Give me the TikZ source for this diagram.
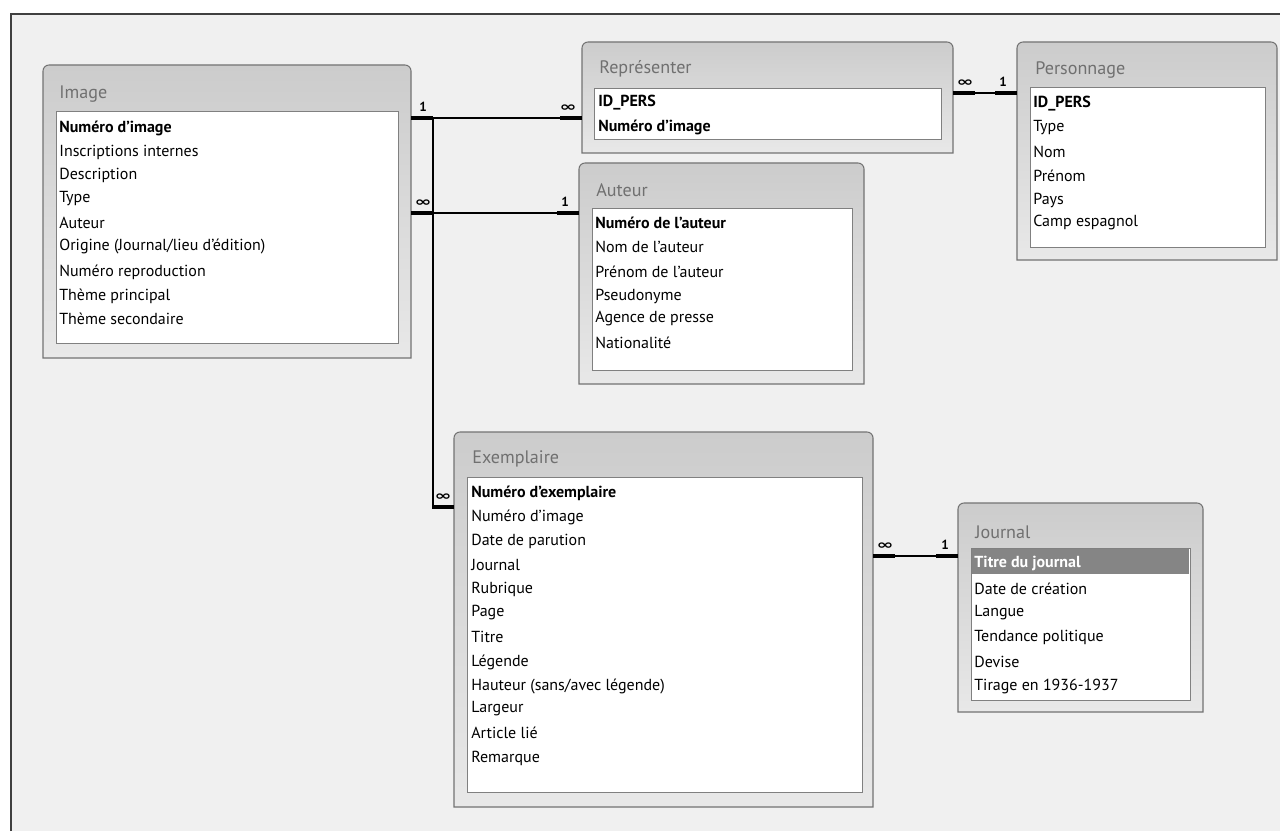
\documentclass[tikz,border=0pt]{standalone}
\usepackage{amsmath,amssymb}
\usepackage{graphicx}
\usepackage{fontspec}
\setmainfont{PT Sans}
\newfontfamily\cardfont{DejaVu Sans}
\usetikzlibrary{calc,fit}
\definecolor{canvasbg}{gray}{0.94}
\definecolor{framecol}{gray}{0.25}
\definecolor{boxline}{gray}{0.45}
\definecolor{boxtop}{gray}{0.80}
\definecolor{boxbot}{gray}{0.91}
\definecolor{listline}{gray}{0.50}
\definecolor{titlecol}{gray}{0.44}
\definecolor{keysel}{gray}{0.52}
\newcommand{\many}{\scalebox{1.55}[1]{\cardfont\bfseries ∞}}
\tikzset{
  tbl/.style={inner sep=0pt,outer sep=0pt},
  tblbox/.style={draw=boxline,line width=0.6pt,top color=boxtop,bottom color=boxbot},
  listbox/.style={draw=listline,fill=white,line width=0.5pt},
  ttl/.style={font=\fontsize{10.3}{12}\selectfont,text=titlecol,anchor=west,inner sep=0pt},
  fld/.style={font=\fontsize{9.1}{11}\selectfont,anchor=west,inner sep=0pt},
  pkfld/.style={font=\fontsize{9.1}{11}\selectfont\bfseries,anchor=west,inner sep=0pt},
  relline/.style={draw=black,line width=0.75pt},
  cardbar/.style={draw=black,line width=2.2pt},
  card/.style={font=\fontsize{7.5}{9}\selectfont,inner sep=0pt},
}

\begin{document}
\begin{tikzpicture}[x=0.02cm,y=-0.02cm]
  \useasboundingbox (0,0) rectangle (1280,831);
  \fill[white] (0,0) rectangle (1280,831);
  \fill[canvasbg] (11,14) rectangle (1280,831);
  \draw[framecol,line width=0.05cm] (11,831) -- (11,14) -- (1280,14);

  % Image
  \node[tbl,fit={(43,65) (411,358)}] (image) {};
  \draw[tblbox] (image.south west) [rounded corners=3.4pt] -- (image.north west) -- (image.north east) [sharp corners] -- (image.south east) -- cycle;
  \node[ttl] (image-t) at (59,94) {Image};
  \draw[listbox] (56,111) rectangle (398,343);
  \node[pkfld] (image-f1) at (59,128) {Numéro d'image};
  \node[fld] (image-f2) at (59,152) {Inscriptions internes};
  \node[fld] (image-f3) at (59,175) {Description};
  \node[fld] (image-f4) at (59,199) {Type};
  \node[fld] (image-f5) at (59,223) {Auteur};
  \node[fld] (image-f6) at (59,247) {Origine (Journal/lieu d'édition)};
  \node[fld] (image-f7) at (59,272) {Numéro reproduction};
  \node[fld] (image-f8) at (59,296) {Thème principal};
  \node[fld] (image-f9) at (59,319) {Thème secondaire};

  % Representer
  \node[tbl,fit={(582,42) (953,153)}] (repr) {};
  \draw[tblbox] (repr.south west) [rounded corners=3.4pt] -- (repr.north west) -- (repr.north east) [sharp corners] -- (repr.south east) -- cycle;
  \node[ttl] (repr-t) at (599,69) {Représenter};
  \draw[listbox] (594,88) rectangle (941,139);
  \node[pkfld] (repr-f1) at (598,103) {ID\_PERS};
  \node[pkfld] (repr-f2) at (598,127) {Numéro d'image};

  % Auteur
  \node[tbl,fit={(579,163) (864,384)}] (auteur) {};
  \draw[tblbox] (auteur.south west) [rounded corners=3.4pt] -- (auteur.north west) -- (auteur.north east) [sharp corners] -- (auteur.south east) -- cycle;
  \node[ttl] (auteur-t) at (596,190) {Auteur};
  \draw[listbox] (592,208) rectangle (852,370);
  \node[pkfld] (auteur-f1) at (595,223) {Numéro de l'auteur};
  \node[fld] (auteur-f2) at (595,247) {Nom de l'auteur};
  \node[fld] (auteur-f3) at (595,272) {Prénom de l'auteur};
  \node[fld] (auteur-f4) at (595,296) {Pseudonyme};
  \node[fld] (auteur-f5) at (595,319) {Agence de presse};
  \node[fld] (auteur-f6) at (595,343) {Nationalité};

  % Personnage
  \node[tbl,fit={(1017,42) (1277,260)}] (pers) {};
  \draw[tblbox] (pers.south west) [rounded corners=3.4pt] -- (pers.north west) -- (pers.north east) [sharp corners] -- (pers.south east) -- cycle;
  \node[ttl] (pers-t) at (1035,70) {Personnage};
  \draw[listbox] (1030,87) rectangle (1265,247);
  \node[pkfld] (pers-f1) at (1033,104) {ID\_PERS};
  \node[fld] (pers-f2) at (1033,128) {Type};
  \node[fld] (pers-f3) at (1033,152) {Nom};
  \node[fld] (pers-f4) at (1033,176) {Prénom};
  \node[fld] (pers-f5) at (1033,200) {Pays};
  \node[fld] (pers-f6) at (1033,223) {Camp espagnol};

  % Exemplaire
  \node[tbl,fit={(454,432) (873,807)}] (expl) {};
  \draw[tblbox] (expl.south west) [rounded corners=3.4pt] -- (expl.north west) -- (expl.north east) [sharp corners] -- (expl.south east) -- cycle;
  \node[ttl] (expl-t) at (472,459) {Exemplaire};
  \draw[listbox] (467,477) rectangle (862,792);
  \node[pkfld] (expl-f1) at (471,493) {Numéro d'exemplaire};
  \node[fld] (expl-f2) at (471,517) {Numéro d'image};
  \node[fld] (expl-f3) at (471,541) {Date de parution};
  \node[fld] (expl-f4) at (471,565) {Journal};
  \node[fld] (expl-f5) at (471,589) {Rubrique};
  \node[fld] (expl-f6) at (471,613) {Page};
  \node[fld] (expl-f7) at (471,637) {Titre};
  \node[fld] (expl-f8) at (471,662) {Légende};
  \node[fld] (expl-f9) at (471,686) {Hauteur (sans/avec légende)};
  \node[fld] (expl-f10) at (471,709) {Largeur};
  \node[fld] (expl-f11) at (471,733) {Article lié};
  \node[fld] (expl-f12) at (471,758) {Remarque};

  % Journal
  \node[tbl,fit={(958,503) (1203,712)}] (journal) {};
  \draw[tblbox] (journal.south west) [rounded corners=3.4pt] -- (journal.north west) -- (journal.north east) [sharp corners] -- (journal.south east) -- cycle;
  \node[ttl] (journal-t) at (975,532) {Journal};
  \draw[listbox] (971,548) rectangle (1190,700);
  \fill[keysel] (972,549) rectangle (1189,574);
  \node[pkfld,text=white] (journal-f1) at (974,563) {Titre du journal};
  \node[fld] (journal-f2) at (974,589) {Date de création};
  \node[fld] (journal-f3) at (974,613) {Langue};
  \node[fld] (journal-f4) at (974,637) {Tendance politique};
  \node[fld] (journal-f5) at (974,662) {Devise};
  \node[fld] (journal-f6) at (974,686) {Tirage en 1936-1937};

  % relations
  \coordinate (lvA) at (0,118);
  \coordinate (lvB) at (0,213);
  \coordinate (lvC) at (0,93);
  \coordinate (lvD) at (0,556);
  \coordinate (lvE) at (0,507);
  \draw[relline] (image.east |- lvA) -- (repr.west |- lvA);
  \draw[relline] (image.east |- lvA) -- ++(22,0) |- (expl.west |- lvE);
  \draw[relline] (image.east |- lvB) -- (auteur.west |- lvB);
  \draw[relline] (repr.east |- lvC) -- (pers.west |- lvC);
  \draw[relline] (expl.east |- lvD) -- (journal.west |- lvD);
  \draw[cardbar] (image.east |- lvA) -- ++(22,0);
  \draw[cardbar] (repr.west |- lvA) -- ++(-22,0);
  \draw[cardbar] (expl.west |- lvE) -- ++(-22,0);
  \draw[cardbar] (image.east |- lvB) -- ++(22,0);
  \draw[cardbar] (auteur.west |- lvB) -- ++(-22,0);
  \draw[cardbar] (repr.east |- lvC) -- ++(22,0);
  \draw[cardbar] (pers.west |- lvC) -- ++(-22,0);
  \draw[cardbar] (expl.east |- lvD) -- ++(22,0);
  \draw[cardbar] (journal.west |- lvD) -- ++(-22,0);
  \node[card] (cA1) at ($(image.east |- lvA)+(12,-11)$) {$\mathbf{1}$};
  \node[card] (cA2) at ($(repr.west |- lvA)+(-14,-10)$) {\many};
  \node[card] (cE2) at ($(expl.west |- lvE)+(-11,-10)$) {\many};
  \node[card] (cB1) at ($(image.east |- lvB)+(12,-10)$) {\many};
  \node[card] (cB2) at ($(auteur.west |- lvB)+(-14,-11)$) {$\mathbf{1}$};
  \node[card] (cC1) at ($(repr.east |- lvC)+(12,-10)$) {\many};
  \node[card] (cC2) at ($(pers.west |- lvC)+(-14,-11)$) {$\mathbf{1}$};
  \node[card] (cD1) at ($(expl.east |- lvD)+(12,-10)$) {\many};
  \node[card] (cD2) at ($(journal.west |- lvD)+(-13,-11)$) {$\mathbf{1}$};
\end{tikzpicture}
\end{document}
